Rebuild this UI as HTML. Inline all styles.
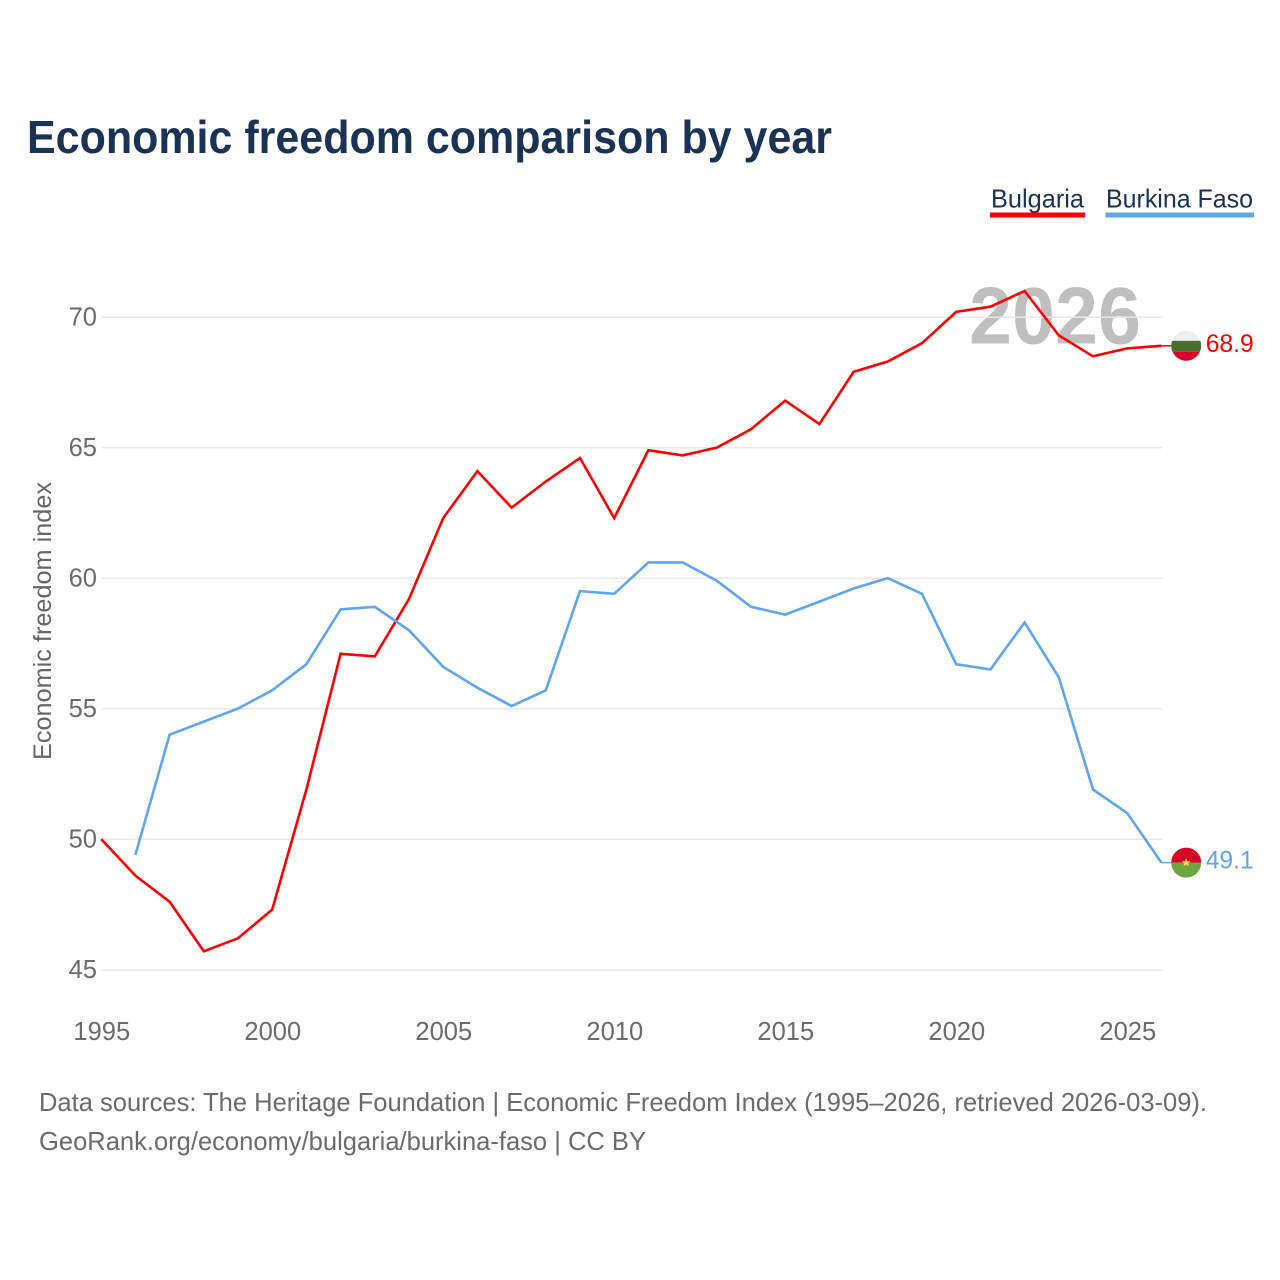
<!DOCTYPE html>
<html lang="en">
<head>
<meta charset="utf-8">
<title>Economic freedom comparison by year</title>
<style>
html,body{margin:0;padding:0;background:#fff;}
svg{display:block;font-family:"Liberation Sans",sans-serif;}
</style>
</head>
<body>
<svg id="chart" xmlns="http://www.w3.org/2000/svg" width="1280" height="1280" viewBox="0 0 1280 1280">
  <rect x="0" y="0" width="1280" height="1280" fill="#ffffff"/>
  <text x="27" y="153" font-size="46" font-weight="700" fill="#1a3354" textLength="805" lengthAdjust="spacingAndGlyphs">Economic freedom comparison by year</text>

  <g>
    <text x="991" y="207.5" font-size="26" fill="#1a3354" textLength="93" lengthAdjust="spacingAndGlyphs">Bulgaria</text>
    <rect x="990" y="212.5" width="95" height="5" fill="#ff0000"/>
  </g>
  <g>
    <text x="1106" y="207.5" font-size="26" fill="#1a3354" textLength="147" lengthAdjust="spacingAndGlyphs">Burkina Faso</text>
    <rect x="1105.5" y="212.5" width="148.5" height="5" fill="#60a5ee"/>
  </g>

  <text x="969" y="343.5" font-size="81" font-weight="700" fill="#bfbfbf" textLength="172" lengthAdjust="spacingAndGlyphs">2026</text>

  <g id="grid"></g>
  <g id="y-ticks"></g>
  <g id="x-ticks"></g>
  <text transform="translate(51,621) rotate(-90)" text-anchor="middle" font-size="25" fill="#666666" textLength="278" lengthAdjust="spacingAndGlyphs">Economic freedom index</text>
  <g id="series"></g>

  <text x="39" y="1111" font-size="26" fill="#6b6b6b" textLength="1168" lengthAdjust="spacingAndGlyphs">Data sources: The Heritage Foundation | Economic Freedom Index (1995–2026, retrieved 2026-03-09).</text>
  <text x="39" y="1150" font-size="26" fill="#6b6b6b" textLength="607" lengthAdjust="spacingAndGlyphs">GeoRank.org/economy/bulgaria/burkina-faso | CC BY</text>
</svg>
<script>
const years = [1995,1996,1997,1998,1999,2000,2001,2002,2003,2004,2005,2006,2007,2008,2009,2010,2011,2012,2013,2014,2015,2016,2017,2018,2019,2020,2021,2022,2023,2024,2025,2026];
const bulgaria = [50.0,48.6,47.6,45.7,46.2,47.3,51.9,57.1,57.0,59.2,62.3,64.1,62.7,63.7,64.6,62.3,64.9,64.7,65.0,65.7,66.8,65.9,67.9,68.3,69.0,70.2,70.4,71.0,69.3,68.5,68.8,68.9];
const burkinaFaso = [null,49.4,54.0,54.5,55.0,55.7,56.7,58.8,58.9,58.0,56.6,55.8,55.1,55.7,59.5,59.4,60.6,60.6,59.9,58.9,58.6,59.1,59.6,60.0,59.4,56.7,56.5,58.3,56.2,51.9,51.0,49.1];
const yTickValues = [45,50,55,60,65,70];
const xTickValues = [1995,2000,2005,2010,2015,2020,2025];

const NS = 'http://www.w3.org/2000/svg';
function xScale(year) { return 101.2 + (year - 1995) * 34.2; }
function yScale(value) { return 969.6 - (value - 45) * 26.1; }
function make(tag, attrs, parent) {
  const el = document.createElementNS(NS, tag);
  for (const k in attrs) el.setAttribute(k, attrs[k]);
  parent.appendChild(el);
  return el;
}
const grid = document.getElementById('grid');
const yTicks = document.getElementById('y-ticks');
const xTicks = document.getElementById('x-ticks');
const seriesLayer = document.getElementById('series');

yTickValues.forEach(function (v) {
  const line = make('line', {x1: xScale(1995) + 0.8, x2: xScale(2026) + 0.8, y1: yScale(v) + 0.2, y2: yScale(v) + 0.2, stroke: '#e8e8e8', 'stroke-width': 1.5}, grid);
  
  
  const label = make('text', {x: 97, y: yScale(v) + 8.5, 'text-anchor': 'end', 'font-size': 25.5, fill: '#6b6b6b'}, yTicks);
  
  
  label.textContent = String(v);
});
xTickValues.forEach(function (v) {
  const label = make('text', {x: xScale(v) + 0.6, y: 1040, 'text-anchor': 'middle', 'font-size': 25.5, fill: '#6b6b6b'}, xTicks);
  
  
  label.textContent = String(v);
});

function drawSeries(values, color, slug) {
  const pts = [];
  values.forEach(function (v, i) {
    if (v !== null) pts.push(xScale(years[i]).toFixed(1) + ',' + yScale(v).toFixed(1));
  });
  const line = make('polyline', {points: pts.join(' '), fill: 'none', stroke: color, 'stroke-width': 2.6, 'stroke-linejoin': 'miter'}, seriesLayer);
  
  
  const last = values[values.length - 1];
  const lastX = xScale(years[years.length - 1]);
  const stub = make('line', {x1: lastX, x2: lastX + 11, y1: yScale(last), y2: yScale(last), stroke: color, 'stroke-width': 1.5}, seriesLayer);
  
  
  const value = make('text', {x: lastX + 44.3, y: yScale(last) + 6, 'font-size': 25, fill: color, textLength: 48, lengthAdjust: 'spacingAndGlyphs'}, seriesLayer);
  
  
  value.textContent = last.toFixed(1);
  const flag = make('g', {transform: 'translate(' + (lastX + 24.8) + ',' + yScale(last) + ')'}, seriesLayer);
  
  
  return flag;
}

const defs = make('defs', {}, seriesLayer);
const clip = make('clipPath', {id: 'flag-clip'}, defs);
make('circle', {cx: 0, cy: 0, r: 15}, clip);

const flagBg = drawSeries(bulgaria, '#ff0000', 'bulgaria');
const bgParts = make('g', {'clip-path': 'url(#flag-clip)'}, flagBg);
make('rect', {x: -15, y: -15, width: 30, height: 10, fill: '#eeeeee'}, bgParts);
make('rect', {x: -15, y: -5, width: 30, height: 11, fill: '#496e2d'}, bgParts);
make('rect', {x: -15, y: 6, width: 30, height: 10, fill: '#d80027'}, bgParts);

const flagBf = drawSeries(burkinaFaso, '#60a5ee', 'burkina-faso');
const bfParts = make('g', {'clip-path': 'url(#flag-clip)'}, flagBf);
make('rect', {x: -15, y: -15, width: 30, height: 15, fill: '#d80027'}, bfParts);
make('rect', {x: -15, y: 0, width: 30, height: 15, fill: '#6da544'}, bfParts);
make('polygon', {points: '0,-4.5 1.3,-1.4 4.5,-1.4 1.9,0.6 2.8,3.8 0,1.9 -2.8,3.8 -1.9,0.6 -4.5,-1.4 -1.3,-1.4', fill: '#ffda44'}, bfParts);
</script>
</body>
</html>
